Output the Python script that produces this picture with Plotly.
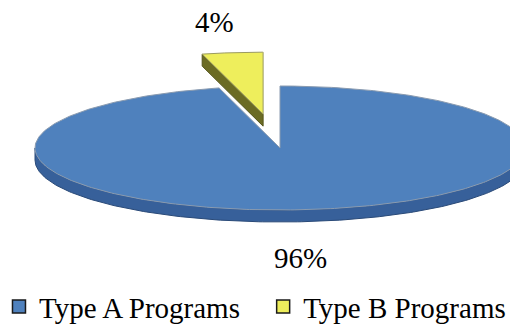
import numpy as np
import plotly.graph_objects as go

labels = ["Type A Programs", "Type B Programs"]
values = [96, 4]
pct_text = ["96%", "4%"]
top_colors = ["#4F81BD", "#EEEE5C"]
side_colors = ["#37609A", "#6B6B24"]
edge_colors = ["#2A4A78", "#55551A"]

# geometry of the tilted pie (pixels)
cx, cy = 280, 148
a, b = 245, 62
depth = 12
explode = [0.0, 0.55]

W, H = 510, 324
total = float(sum(values))
fracs = [v / total for v in values]

# slice B starts at 12 o'clock going counter-clockwise; slice A fills the rest
starts = [fracs[1] * 2 * np.pi, 0.0]
ends = [2 * np.pi, fracs[1] * 2 * np.pi]


def pt(theta, off=(0.0, 0.0)):
    return cx + off[0] - a * np.sin(theta), cy + off[1] - b * np.cos(theta)


fig = go.Figure()

for i in range(len(values)):
    t0, t1 = starts[i], ends[i]
    tm = 0.5 * (t0 + t1)
    off = (-explode[i] * a * np.sin(tm), -explode[i] * b * np.cos(tm))
    ocx, ocy = cx + off[0], cy + off[1]

    # front rim (visible side) : part of arc in the lower half
    lo, hi = max(t0, np.pi / 2), min(t1, 3 * np.pi / 2)
    if hi > lo:
        th = np.linspace(lo, hi, 200)
        xs, ys = pt(th, off)
        px = list(xs) + list(xs[::-1]) + [xs[0]]
        py = list(ys) + list((ys + depth)[::-1]) + [ys[0]]
        fig.add_trace(go.Scatter(x=px, y=py, fill="toself", mode="lines",
                                 fillcolor=side_colors[i],
                                 line=dict(color=edge_colors[i], width=1),
                                 hoverinfo="skip", showlegend=False))

    # cut face along the edge at angle t1 (visible for the small exploded slice)
    if explode[i] > 0:
        ex, ey = pt(t1, off)
        fx = [ocx, ex, ex, ocx, ocx]
        fy = [ocy, ey, ey + depth, ocy + depth, ocy]
        fig.add_trace(go.Scatter(x=fx, y=fy, fill="toself", mode="lines",
                                 fillcolor=side_colors[i],
                                 line=dict(color=edge_colors[i], width=1),
                                 hoverinfo="skip", showlegend=False))

    # top face
    th = np.linspace(t0, t1, 400)
    xs, ys = pt(th, off)
    px = [ocx] + list(xs) + [ocx]
    py = [ocy] + list(ys) + [ocy]
    fig.add_trace(go.Scatter(x=px, y=py, fill="toself", mode="lines",
                             fillcolor=top_colors[i],
                             line=dict(color="#8A9BB0" if i == 0 else "#9A9A60", width=1),
                             hoverinfo="skip", showlegend=False))

font_family = "Liberation Serif"

# legend entries, one legend box each so they sit on a single row
legend_names = ["legend", "legend2"]
legend_x = [-0.002, 0.516]
for i in range(len(values)):
    fig.add_trace(go.Scatter(x=[None], y=[None], mode="markers", name=labels[i],
                             legend=legend_names[i],
                             marker=dict(symbol="square", size=13, color=top_colors[i],
                                         line=dict(color="#1A1A1A", width=1.5))))

label_pos = [(300, 258), (214, 22)]
for i in range(len(values)):
    fig.add_annotation(x=label_pos[i][0], y=label_pos[i][1], text=pct_text[i],
                       showarrow=False, xref="x", yref="y",
                       font=dict(family=font_family, size=29, color="#000000"))

legend_style = dict(orientation="h", y=-0.025, xanchor="left", yanchor="bottom",
                    font=dict(family=font_family, size=29, color="#000000"),
                    bgcolor="rgba(0,0,0,0)", itemwidth=30)

fig.update_layout(
    width=W, height=H,
    margin=dict(l=0, r=0, t=0, b=0, autoexpand=False),
    paper_bgcolor="white", plot_bgcolor="white",
    xaxis=dict(range=[0, W], visible=False, fixedrange=True),
    yaxis=dict(range=[H, 0], visible=False, fixedrange=True),
    showlegend=True,
    legend=dict(x=legend_x[0], **legend_style),
    legend2=dict(x=legend_x[1], **legend_style),
)

fig.write_html("out.html")
